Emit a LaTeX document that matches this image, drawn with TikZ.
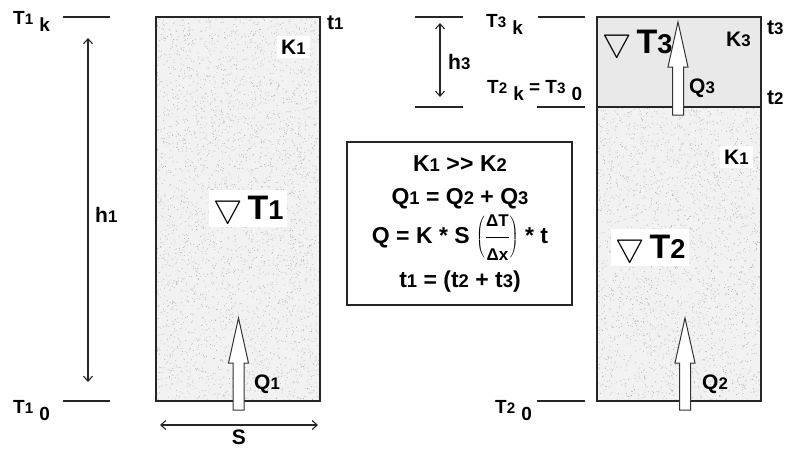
\documentclass[tikz,border=0pt]{standalone}
\usepackage{fontspec}
\setmainfont{Liberation Sans}
\usetikzlibrary{arrows.meta}

\newcommand{\dg}[1]{\scalebox{0.8}{#1}}
\newcommand{\lw}[1]{\kern6pt\raisebox{-7pt}{#1}}
\newcommand{\grad}{\raisebox{2pt}{\scalebox{3.3}{\normalsize$\bigtriangledown$}}\kern5pt}
\newcommand{\flowarrow}[3]{%
  \draw[blockarr] ({#1-5.5},#2) -- ({#1-5.5},{#3+45}) -- ({#1-10},{#3+45}) -- (#1,#3)
    -- ({#1+10},{#3+45}) -- ({#1+5.5},{#3+45}) -- ({#1+5.5},#2) -- cycle;}

\begin{document}
\begin{tikzpicture}[
  x=1pt, y=-1pt, font=\bfseries,
  slab/.style={draw=black!85, line width=2pt},
  levelline/.style={line width=1.3pt, draw=black!85},
  dim/.style={{Straight Barb[length=5pt,width=9pt]}-{Straight Barb[length=5pt,width=9pt]},
    line width=1.1pt, draw=black!85},
  lvl/.style={anchor=base west, inner sep=0pt, font=\fontsize{19}{21}\selectfont\bfseries},
  lbl/.style={anchor=base west, inner sep=0pt, font=\fontsize{21}{24}\selectfont\bfseries},
  gradlbl/.style={anchor=base west, inner sep=0pt, font=\fontsize{34}{38}\selectfont\bfseries},
  eqn/.style={anchor=base, inner sep=0pt, font=\fontsize{23}{25}\selectfont\bfseries},
  patch/.style={fill=white, inner sep=4pt},
  blockarr/.style={draw=black!80, fill=white, line width=1pt}
]
\useasboundingbox (0,0) rectangle (790,448);

% the two columns
\fill[gray!10] (156,17) rectangle (320,401);
\fill[gray!10] (597,107) rectangle (761,401);
\fill[gray!17] (597,17) rectangle (761,107);
\pgfmathsetseed{11}
\foreach \n in {1,...,3600}
  \fill[gray!65] ({156+164*rnd},{17+384*rnd}) circle (0.45pt);
\foreach \n in {1,...,2750}
  \fill[gray!65] ({597+164*rnd},{107+294*rnd}) circle (0.45pt);
\draw[slab] (156,17) rectangle (320,401);
\draw[slab] (597,17) rectangle (761,401);
\draw[slab] (597,107) -- (761,107);

% level marks
\draw[levelline] (63,17) -- (110,17);
\draw[levelline] (63,401) -- (110,401);
\draw[levelline] (415,17) -- (463,17);
\draw[levelline] (538,17) -- (585,17);
\draw[levelline] (415,107) -- (463,107);
\draw[levelline] (537,107) -- (585,107);
\draw[levelline] (537,401) -- (585,401);

\node[lvl] (t1k) at (13,24) {T\dg{1}\lw{k}};
\node[lvl] (t10) at (13,413) {T\dg{1}\lw{0}};
\node[lvl] (t3k) at (486,27) {T\dg{3}\lw{k}};
\node[lvl] (t2k) at (487,93) {T\dg{2}\lw{k} = T\dg{3}\lw{0}};
\node[lvl] (t20) at (495,413) {T\dg{2}\lw{0}};

% heights and width
\coordinate (h1top) at (88,38);
\coordinate (h1bot) at (88,382);
\coordinate (h3top) at (440,23);
\coordinate (h3bot) at (440,97);
\coordinate (sl) at (160,425);
\coordinate (sr) at (318,425);
\draw[dim] (h1top) -- (h1bot);
\draw[dim] (h3top) -- (h3bot);
\draw[dim] (sl) -- (sr);
\node[lbl] (h1) at (95,222) {h\dg{1}};
\node[lbl] (h3) at (448,69) {h\dg{3}};
\node[lbl, anchor=base, font=\fontsize{21}{24}\selectfont\bfseries] (s) at (239,444) {S};

% times
\node[lbl] (tt1) at (327,29) {t\dg{1}};
\node[lbl] (tt3) at (767,34) {t\dg{3}};
\node[lbl] (tt2) at (767,104) {t\dg{2}};

% layer labels
\node[lbl, patch] (k1a) at (277,54) {K\dg{1}};
\node[lbl] (k3) at (726,46) {K\dg{3}};
\node[lbl, patch] (k1b) at (720,164) {K\dg{1}};
\node[gradlbl, patch] (g1) at (209,219) {\grad T\dg{1}};
\node[gradlbl, patch] (g2) at (611,258) {\grad T\dg{2}};
\node[gradlbl] (g3) at (602,53) {\grad T\dg{3}};

% heat flows
\flowarrow{238.5}{410}{318}
\flowarrow{685}{410}{318}
\flowarrow{678}{115}{22}
\node[lbl] (q1) at (254,389) {Q\dg{1}};
\node[lbl] (q2) at (702,389) {Q\dg{2}};
\node[lbl] (q3) at (689,93) {Q\dg{3}};

% relations
\node[draw=black!85, line width=1.6pt, minimum width=225pt, minimum height=163pt]
  (eqbox) at (459.5,223.5) {};
\node[eqn] (eq1) at (460,171) {K\dg{1} >\kern0.5pt> K\dg{2}};
\node[eqn] (eq2) at (460,204) {Q\dg{1} = Q\dg{2} + Q\dg{3}};
\node[eqn] (eq3) at (460,243) {Q = K * S $\displaystyle\left(\frac{\mbox{\fontsize{17}{17}\selectfont ΔT}}{\mbox{\fontsize{17}{17}\selectfont Δx}}\right)$ * t};
\node[eqn] (eq4) at (460,287) {t\dg{1} = (t\dg{2} + t\dg{3})};

\end{tikzpicture}
\end{document}
